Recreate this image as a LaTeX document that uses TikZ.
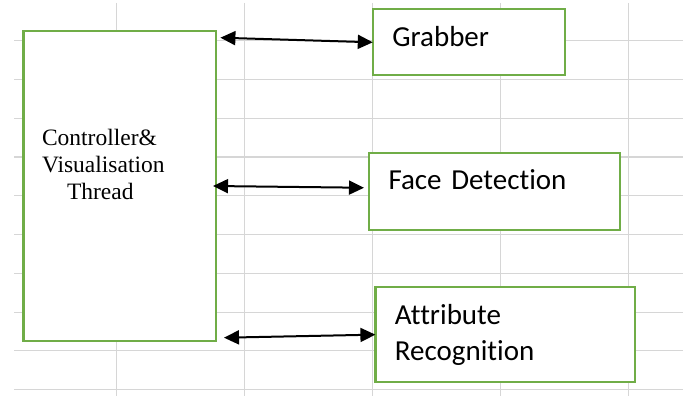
\documentclass[tikz,border=0pt]{standalone}
\usepackage{fontspec}
\setmainfont{Liberation Serif}
\newfontfamily\boxfont[Ligatures=NoCommon]{Carlito}
\usetikzlibrary{arrows.meta,calc}
\definecolor{gridgray}{RGB}{214,214,214}
\definecolor{boxgreen}{RGB}{112,173,71}

\begin{document}
\begin{tikzpicture}[x=1pt, y=-1pt,
  block/.style={draw=boxgreen, line width=2.2pt, fill=white, anchor=north west,
    outer sep=0pt, inner ysep=0pt, inner xsep=19.5pt, align=left,
    font=\boxfont\fontsize{29}{36}\selectfont},
  link/.style={line width=2pt,
    {Triangle[length=15pt,width=14pt]}-{Triangle[length=15pt,width=14pt]}}]
  \useasboundingbox[fill=white] (0,0) rectangle (683,396);
  % spreadsheet grid
  \foreach \gx in {116.7,244.7,372.7,500.8,628.9}
    \draw[gridgray, line width=1.1pt] (\gx,3) -- (\gx,396);
  \foreach \k in {0,...,9}
    \draw[gridgray, line width=1.1pt] (14,{40.7+38.78*\k}) -- (683,{40.7+38.78*\k});
  % boxes
  \node[block, inner xsep=18.5pt, text width=155.5pt, text height=114.3pt, text depth=195.7pt,
    font=\fontsize{23.5}{27}\selectfont]
    (ctrl) at (23.5,31) {Controller\&\\Visualisation\\\hspace*{25pt}Thread};
  \node[block, text width=153.5pt, text height=37.4pt, text depth=28.6pt]
    (grab) at (372.8,9.3) {Grabber};
  \node[block, text width=212pt, text height=36.6pt, text depth=40.7pt]
    (face) at (369,152.7) {Face Detection};
  \node[block, text width=220.2pt, text height=36.7pt, text depth=58pt]
    (attr) at (375.4,287.3) {Attribute\\Recognition};
  % links
  \draw[link] ([shift={(4.4,6.7)}]ctrl.north east) -- (grab.west);
  \draw[link] ([xshift=-3pt]ctrl.east) -- ([shift={(-5,-3.6)}]face.west);
  \draw[link] ([shift={(8,-3.3)}]ctrl.south east) -- (attr.west);
\end{tikzpicture}
\end{document}
